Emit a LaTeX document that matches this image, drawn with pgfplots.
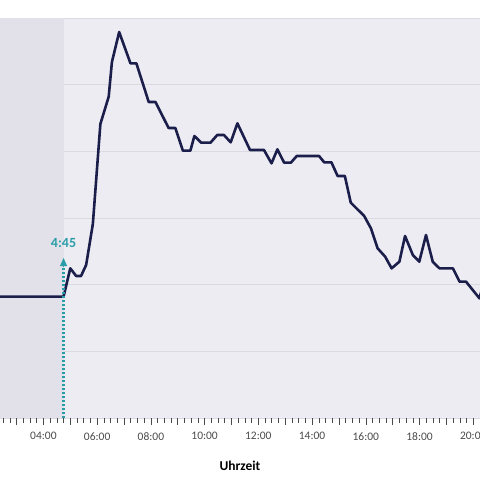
\documentclass[border=0pt]{standalone}
\usepackage{pgfplots}
\pgfplotsset{compat=1.18}
\usepackage{fontspec}
\setmainfont{Carlito}
\usetikzlibrary{arrows.meta}
\definecolor{bgplot}{HTML}{EDECF2}
\definecolor{bgshade}{HTML}{E2E1E9}
\definecolor{gridc}{HTML}{DADAE0}
\definecolor{navy}{HTML}{1B1E4B}
\definecolor{tealc}{HTML}{2A9DA8}
\definecolor{tickc}{HTML}{4A4A4A}
\begin{document}
\begin{tikzpicture}
\begin{axis}[
  scale only axis, width=480pt, height=400pt,
  xmin=2.384, xmax=20.25, ymin=0, ymax=6,
  axis line style={draw=none},
  axis background/.style={fill=bgplot},
  ytick={0,1,...,6}, yticklabels={},
  ymajorgrids, major grid style={gridc, line width=0.8pt},
  xtick={2,3,...,21},
  xticklabels={02:00,,04:00,,06:00,,08:00,,10:00,,12:00,,14:00,,16:00,,18:00,,20:00,},
  minor x tick num=3,
  tick align=outside,
  major tick length=7pt, minor tick length=5pt,
  x tick style={tickc, line width=0.6pt},
  y tick style={draw=none},
  xtick pos=bottom,
  ticklabel style={font=\fontsize{11.5}{13}\selectfont, text=tickc},
  xticklabel style={yshift=-4pt},
  xlabel={\textbf{Uhrzeit}},
  xlabel style={font=\fontsize{13.5}{15}\selectfont, text=black, yshift=-14pt},
  clip=true,
]
\fill[bgshade] (axis cs:2,0) rectangle (axis cs:4.75,6);
\addplot[navy, line width=2.6pt, line join=round, mark=none] coordinates {
(2.0,1.82) (4.75,1.82) (5.0,2.245) (5.22,2.13) (5.40,2.13) (5.59,2.295)
(5.84,2.91) (6.12,4.41) (6.43,4.82) (6.55,5.34) (6.82,5.79) (7.24,5.32)
(7.46,5.32) (7.92,4.74) (8.17,4.74) (8.66,4.35) (8.91,4.35) (9.19,4.01)
(9.47,4.01) (9.62,4.23) (9.87,4.13) (10.22,4.13) (10.47,4.245) (10.72,4.245)
(10.97,4.135) (11.22,4.42) (11.69,4.02) (12.21,4.02) (12.49,3.82) (12.71,4.03)
(12.96,3.83) (13.21,3.83) (13.43,3.93) (14.26,3.93) (14.45,3.835) (14.72,3.835)
(14.95,3.63) (15.22,3.63) (15.44,3.23) (15.94,3.03) (16.19,2.845) (16.44,2.545)
(16.72,2.42) (16.96,2.245) (17.25,2.345) (17.46,2.73) (17.75,2.445) (17.99,2.345)
(18.24,2.745) (18.49,2.345) (18.74,2.245) (19.24,2.245) (19.49,2.045) (19.73,2.045)
(20.23,1.795) (20.5,2.2)
};
\draw[tealc, line width=2.2pt, dash pattern=on 2pt off 2pt] (axis cs:4.75,0) -- (axis cs:4.75,2.28);
\draw[tealc, line width=0.8pt, -{Triangle[length=8pt,width=7pt]}] (axis cs:4.75,2.27) -- (axis cs:4.75,2.4);
\node[tealc, font=\bfseries\fontsize{14}{16}\selectfont, anchor=south] at (axis cs:4.75,2.5) {4:45};
\coordinate (SW) at (rel axis cs:0,0);
\end{axis}
\pgfresetboundingbox
\useasboundingbox ([yshift=-62pt]SW) rectangle ([xshift=480pt,yshift=418pt]SW);
\end{tikzpicture}
\end{document}
